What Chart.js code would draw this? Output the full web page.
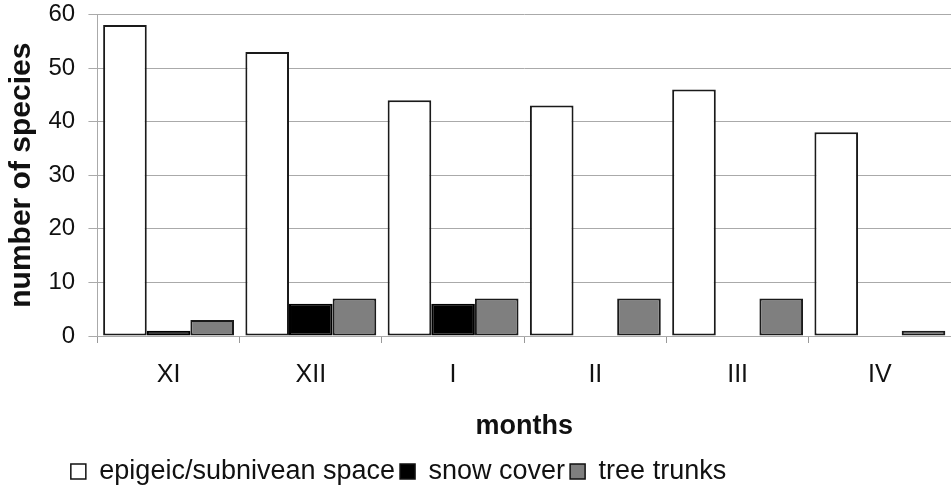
<!DOCTYPE html>
<html><head><meta charset="utf-8">
<script src="https://cdn.jsdelivr.net/npm/chart.js@4.4.0/dist/chart.umd.min.js"></script>
<style>html,body{margin:0;padding:0;background:#fff;}#wrap{width:951px;height:489px;}</style>
</head><body><div id="wrap"><canvas id="c" width="951" height="489"></canvas></div>
<script>
const months = ["XI","XII","I","II","III","IV"];
const epigeic = [58,53,44,43,46,38];
const snowCover = [1,6,6,0,0,0];
const treeTrunks = [3,7,7,7,7,1];
const yTicks = [0,10,20,30,40,50,60];

const shiftLegend = {
  id:'shiftLegend',
  afterLayout(chart){ const l=chart.legend; if(l){ l.left-=77; l.right-=77; } }
};

const FONT = "'Liberation Sans', Arial, sans-serif";
new Chart(document.getElementById('c'), {
  type:'bar',
  data:{
    labels: months,
    datasets:[
      {label:'epigeic/subnivean space', data:epigeic, backgroundColor:'#ffffff', borderColor:'#1a1a1a', borderWidth:2},
      {label:'snow cover', data:snowCover, backgroundColor:'#000000', borderColor:'#000000', borderWidth:2},
      {label:'tree trunks', data:treeTrunks, backgroundColor:'#7f7f7f', borderColor:'#1a1a1a', borderWidth:2}
    ]
  },
  plugins:[shiftLegend],
  options:{
    responsive:false, animation:false,
    devicePixelRatio:1,
    layout:{padding:{left:0,right:0,top:0,bottom:-6}},
    datasets:{bar:{categoryPercentage:0.92, barPercentage:1.0, borderSkipped:false}},
    plugins:{
      tooltip:{enabled:false},
      legend:{position:'bottom',
        labels:{font:{family:FONT,size:27}, color:'#111', boxWidth:15, boxHeight:15, padding:5,
          generateLabels(chart){
            return chart.data.datasets.map((d,i)=>({text:d.label, fillStyle:d.backgroundColor, strokeStyle:'#111', lineWidth:1.5, datasetIndex:i, fontColor:'#111'}));
          }}}
    },
    scales:{
      x:{
        grid:{display:true, offset:true, drawOnChartArea:false, drawTicks:true, tickLength:7, color:'#999'},
        border:{display:true, color:'#aaa', width:1},
        ticks:{font:{family:FONT,size:25}, color:'#111', padding:17},
        title:{display:true, text:'months', font:{family:FONT,size:27,weight:'bold'}, color:'#111', padding:{top:3,bottom:10.6}}
      },
      y:{
        min:0, max:60,
        afterBuildTicks(axis){ axis.ticks = yTicks.map(v=>({value:v})); },
        grid:{color:'#aaa', lineWidth:1, tickLength:9},
        border:{display:true, color:'#aaa', width:1},
        ticks:{font:{family:FONT,size:24}, color:'#111', padding:0, callback:(v)=>String(v)+'  '},
        title:{display:true, text:'number of species', font:{family:FONT,size:30,weight:'bold'}, color:'#111', padding:{top:4,bottom:8.4}}
      }
    }
  }
});
</script></body></html>
